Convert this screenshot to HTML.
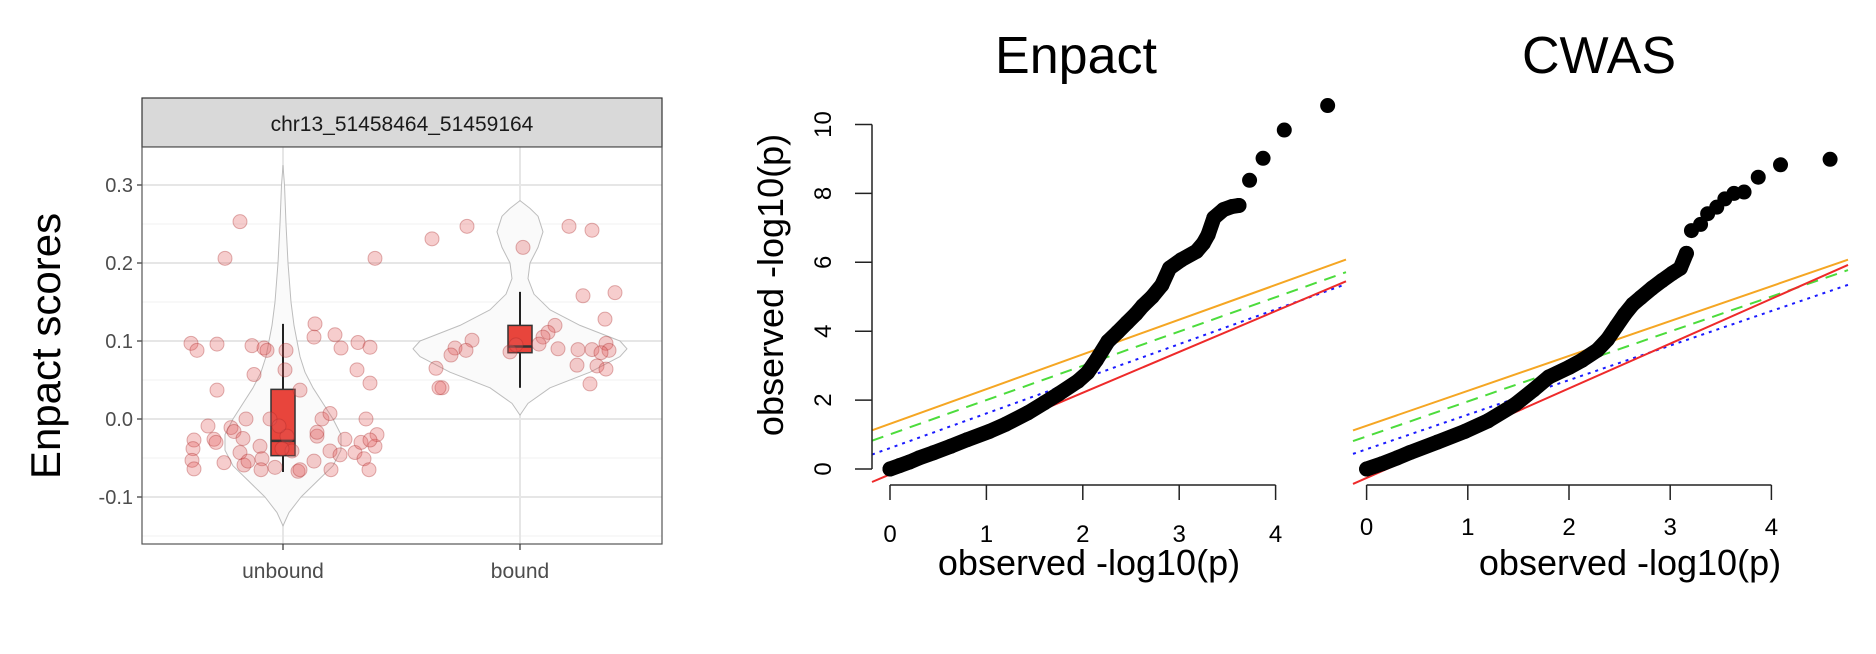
<!DOCTYPE html>
<html><head><meta charset="utf-8">
<style>
html,body{margin:0;padding:0;background:#fff;}
svg{display:block;font-family:"Liberation Sans",Arial,sans-serif;}
</style></head>
<body>
<svg id="chart" width="1876" height="654" viewBox="0 0 1876 654" xmlns="http://www.w3.org/2000/svg">
  <g id="violinPanel"></g>
  <g id="enpactPanel"></g>
  <g id="cwasPanel"></g>
</svg>
<script>
// ---------- Violin panel data ----------
const vCategories = ["unbound", "bound"];
const vYTicks = [-0.1, 0.0, 0.1, 0.2, 0.3];
const vYTickLabels = ["-0.1", "0.0", "0.1", "0.2", "0.3"];
const unboundJitter = [-43,-58,92,-92,-86,-66,-31,-19,-16,3,32,31,52,58,75,87,2,-29,74,87,-66,17,-37,-13,39,47,83,-75,-52,-49,-40,-69,-67,-89,-90,-91,-89,-59,-43,-39,-23,-21,-22,-8,4,9,15,17,31,34,34,48,47,57,62,72,78,81,86,92,94,-4,-1,-35,87];
const unboundValues = [0.253,0.206,0.206,0.097,0.088,0.096,0.094,0.091,0.088,0.088,0.122,0.105,0.108,0.091,0.098,0.092,0.063,0.057,0.063,0.046,0.037,0.037,0.0,0.0,0.0,0.007,0.0,-0.009,-0.011,-0.016,-0.025,-0.026,-0.03,-0.027,-0.038,-0.053,-0.064,-0.056,-0.043,-0.059,-0.035,-0.051,-0.065,-0.062,-0.022,-0.041,-0.067,-0.065,-0.054,-0.022,-0.017,-0.065,-0.041,-0.046,-0.026,-0.043,-0.03,-0.051,-0.065,-0.035,-0.02,-0.009,-0.038,-0.054,-0.027];
const boundJitter = [-88,-53,3,49,72,63,95,85,35,28,23,19,38,58,72,86,89,81,57,77,86,70,-48,-65,-54,-69,-10,-84,-78,-81,-4];
const boundValues = [0.231,0.247,0.22,0.247,0.242,0.158,0.162,0.128,0.12,0.111,0.105,0.096,0.09,0.089,0.089,0.097,0.088,0.085,0.069,0.068,0.064,0.045,0.101,0.091,0.088,0.082,0.086,0.065,0.04,0.04,0.095];
// box stats: [lowWhisker, q1, median, q3, highWhisker]
const unboundBox = [-0.068,-0.047,-0.028,0.038,0.122];
const boundBox = [0.04,0.085,0.093,0.12,0.163];
// violin outline: values and half-widths (density, px-scaled)
const unboundViolinY = [-0.137,-0.12,-0.1,-0.08,-0.06,-0.04,-0.02,0.0,0.02,0.04,0.06,0.08,0.1,0.12,0.15,0.2,0.25,0.3,0.325];
const unboundViolinW = [0,6,18,34,50,58,58,50,40,30,22,17,14,11,8,5,3,1.5,0];
const boundViolinY = [0.005,0.02,0.04,0.06,0.08,0.09,0.1,0.12,0.14,0.16,0.18,0.2,0.22,0.24,0.26,0.27,0.28];
const boundViolinW = [0,8,30,70,100,107,100,60,30,14,8,10,18,23,18,10,0];

const NS = "http://www.w3.org/2000/svg";
function mk(parent, tag, attrs, text){
  const e = document.createElementNS(NS, tag);
  for (const k in attrs) e.setAttribute(k, attrs[k]);
  if (text !== undefined) e.textContent = text;
  parent.appendChild(e);
  return e;
}

// ---------- Violin panel ----------
(function(){
  const g = document.getElementById('violinPanel');
  const L=142, R=662, T=147, B=544;
  const yS = v => 419 - v*780;
  const xS = i => [283,520][i];
  // strip
  const strip = mk(g,'rect',{x:L,y:98,width:R-L,height:49,fill:'#d9d9d9',stroke:'#333','stroke-width':1.2});
  
  
  const st = mk(g,'text',{x:(L+R)/2,y:131,'text-anchor':'middle','font-size':21,fill:'#1a1a1a'},'chr13_51458464_51459164');
  
  
  mk(g,'rect',{x:L,y:T,width:R-L,height:B-T,fill:'#fff'});
  // minor grid
  for (let v=-0.15; v<=0.351; v+=0.1){
    const y=yS(v); if (y<T||y>B) continue;
    const gl = mk(g,'line',{x1:L,x2:R,y1:y,y2:y,stroke:'#f0f0f0','stroke-width':1});
    
    
  }
  vYTicks.forEach((v,i)=>{
    const y=yS(v);
    const gl = mk(g,'line',{x1:L,x2:R,y1:y,y2:y,stroke:'#e6e6e6','stroke-width':2});
    
    
    const tk = mk(g,'line',{x1:L-5,x2:L,y1:y,y2:y,stroke:'#333','stroke-width':1.2});
    
    
    const t = mk(g,'text',{x:L-9,y:y+7,'text-anchor':'end','font-size':20,fill:'#4d4d4d'},vYTickLabels[i]);
    
    
  });
  vCategories.forEach((c,i)=>{
    const x=xS(i);
    const gl = mk(g,'line',{x1:x,x2:x,y1:T,y2:B,stroke:'#e6e6e6','stroke-width':2});
    
    
  });
  // violins
  function violin(i, ys, ws, name){
    let d='';
    ys.forEach((v,k)=>{ d += (k?'L':'M')+(xS(i)+ws[k])+','+yS(v)+' '; });
    for (let k=ys.length-1;k>=0;k--) d += 'L'+(xS(i)-ws[k])+','+yS(ys[k])+' ';
    const p = mk(g,'path',{d:d+'Z',fill:'#fafafa',stroke:'#bdbdbd','stroke-width':1,'stroke-linejoin':'round'});
    
    
  }
  violin(0, unboundViolinY, unboundViolinW, 'violin-unbound');
  violin(1, boundViolinY, boundViolinW, 'violin-bound');
  // boxes
  function box(i, s, name){
    const x=xS(i), w=24;
    const wl = mk(g,'line',{x1:x,x2:x,y1:yS(s[0]),y2:yS(s[4]),stroke:'#222','stroke-width':2});
    
    
    const r = mk(g,'rect',{x:x-w/2,y:yS(s[3]),width:w,height:yS(s[1])-yS(s[3]),fill:'#e8453c',stroke:'#333','stroke-width':1.5});
    
    
    const m = mk(g,'line',{x1:x-w/2,x2:x+w/2,y1:yS(s[2]),y2:yS(s[2]),stroke:'#333','stroke-width':2.5});
    
    
  }
  box(0, unboundBox, 'unbound');
  box(1, boundBox, 'bound');
  // points
  function pts(i, jit, vals, name){
    vals.forEach((v,k)=>{
      const c = mk(g,'circle',{cx:xS(i)+jit[k],cy:yS(v),r:7,fill:'rgba(226,90,90,0.3)',stroke:'rgba(170,40,40,0.35)','stroke-width':1});
      
      
    });
  }
  pts(0, unboundJitter, unboundValues, 'point-unbound');
  pts(1, boundJitter, boundValues, 'point-bound');
  const bd = mk(g,'rect',{x:L,y:T,width:R-L,height:B-T,fill:'none',stroke:'#555','stroke-width':1.2});
  
  
  vCategories.forEach((c,i)=>{
    const x=xS(i);
    const tk = mk(g,'line',{x1:x,x2:x,y1:B,y2:B+6,stroke:'#333','stroke-width':1.2});
    
    
    const t = mk(g,'text',{x:x,y:578,'text-anchor':'middle','font-size':21,fill:'#4d4d4d'},c);
    
    
  });
  const yt = mk(g,'text',{x:0,y:0,'text-anchor':'middle','font-size':42,fill:'#000',transform:'translate(60,346) rotate(-90)'},'Enpact scores');
  
  
})();

// ---------- QQ data ----------
const qqXTicks = [0,1,2,3,4];
const qqYTicks = [0,2,4,6,8,10];
const enpactX = [0,0.1,0.2,0.3,0.45,0.63,0.8,1.03,1.2,1.43,1.6,1.75,1.95,2.05,2.14,2.26,2.36,2.46,2.55,2.62,2.72,2.82,2.9,3.02,3.18,3.25,3.3,3.36,3.46,3.55,3.62];
const enpactY = [0,0.1,0.2,0.32,0.47,0.66,0.85,1.09,1.3,1.63,1.92,2.18,2.55,2.8,3.16,3.7,3.97,4.25,4.5,4.73,5.0,5.34,5.83,6.07,6.32,6.55,6.8,7.29,7.53,7.62,7.65];
const enpactTopX = [3.73,3.87,4.09,4.54];
const enpactTopY = [8.38,9.02,9.84,10.55];
const cwasX = [0,0.15,0.3,0.43,0.7,0.97,1.2,1.47,1.65,1.8,2.0,2.13,2.28,2.38,2.47,2.55,2.63,2.71,2.82,2.92,3.02,3.1,3.16];
const cwasY = [0,0.15,0.32,0.48,0.78,1.09,1.4,1.88,2.3,2.67,2.95,3.16,3.45,3.76,4.15,4.49,4.78,4.98,5.25,5.47,5.68,5.83,6.26];
const cwasTopX = [3.21,3.3,3.37,3.46,3.54,3.63,3.73,3.87,4.09,4.58];
const cwasTopY = [6.92,7.1,7.41,7.6,7.84,8.0,8.04,8.47,8.83,8.99];
// reference lines: [intercept, slope]
const enpactLines = {orange:[1.31,1.008], green:[1.006,0.995], blue:[0.607,1.006], red:[-0.156,1.185]};
const cwasLines = {orange:[1.256,1.013], green:[0.946,1.015], blue:[0.574,1.003], red:[-0.26,1.30]};

function qqPanel(gid, cfg){
  const g = document.getElementById(gid);
  const xS = v => cfg.x0 + v*cfg.xu;
  const yS = v => 469 - v*34.45;
  const xMin = (cfg.L-cfg.x0)/cfg.xu, xMax = (cfg.R-cfg.x0)/cfg.xu;
  const styles = {
    orange:{stroke:'#f5a623',dash:'none',name:'orange-line'},
    green:{stroke:'#4cdc3c',dash:'12,8',name:'green-dashed-line'},
    blue:{stroke:'#1a1aff',dash:'3,5',name:'blue-dotted-line'},
    red:{stroke:'#ee2a2a',dash:'none',name:'red-line'}
  };
  ['orange','green','blue','red'].forEach(k=>{
    const [a,b] = cfg.lines[k];
    const l = mk(g,'line',{x1:xS(xMin),y1:yS(a+b*xMin),x2:xS(xMax),y2:yS(a+b*xMax),stroke:styles[k].stroke,'stroke-width':2,'stroke-dasharray':styles[k].dash});
    
    
  });
  // dense band
  const pl = mk(g,'polyline',{points:cfg.xs.map((x,i)=>xS(x)+','+yS(cfg.ys[i])).join(' '),fill:'none',stroke:'#000','stroke-width':15,'stroke-linecap':'round','stroke-linejoin':'round'});
  
  
  cfg.xs.forEach((x,i)=>{
    const c = mk(g,'circle',{cx:xS(x),cy:yS(cfg.ys[i]),r:7.5,fill:'#000'});
    
    
  });
  cfg.tx.forEach((x,i)=>{
    const c = mk(g,'circle',{cx:xS(x),cy:yS(cfg.ty[i]),r:7.5,fill:'#000'});
    
    
  });
  // x axis
  const ax = mk(g,'line',{x1:xS(0),x2:xS(4),y1:485,y2:485,stroke:'#222','stroke-width':1.5});
  
  
  qqXTicks.forEach(v=>{
    const tk = mk(g,'line',{x1:xS(v),x2:xS(v),y1:485,y2:500,stroke:'#222','stroke-width':1.5});
    
    
    const t = mk(g,'text',{x:xS(v),y:cfg.xlabY,'text-anchor':'middle','font-size':24,fill:'#000'},String(v));
    
    
  });
  if (cfg.yaxis){
    const ay = mk(g,'line',{x1:872,x2:872,y1:yS(0),y2:yS(10),stroke:'#222','stroke-width':1.5});
    
    
    qqYTicks.forEach(v=>{
      const tk = mk(g,'line',{x1:855,x2:872,y1:yS(v),y2:yS(v),stroke:'#222','stroke-width':1.5});
      
      
      const t = mk(g,'text',{x:0,y:0,'text-anchor':'middle','font-size':24,fill:'#000',transform:'translate(831,'+yS(v)+') rotate(-90)'},String(v));
      
      
    });
    const yt = mk(g,'text',{x:0,y:0,'text-anchor':'middle','font-size':36,fill:'#000',transform:'translate(783,285) rotate(-90)'},'observed -log10(p)');
    
    
  }
  const xt = mk(g,'text',{x:cfg.xtX,y:575,'text-anchor':'middle','font-size':36,fill:'#000'},'observed -log10(p)');
  
  
  const tt = mk(g,'text',{x:cfg.titleX,y:73,'text-anchor':'middle','font-size':52,fill:'#000'},cfg.title);
  
  
}
qqPanel('enpactPanel',{x0:890,xu:96.4,L:872,R:1346,lines:enpactLines,xs:enpactX,ys:enpactY,tx:enpactTopX,ty:enpactTopY,yaxis:true,xlabY:542,xtX:1089,titleX:1076,title:'Enpact'});
qqPanel('cwasPanel',{x0:1366.6,xu:101.2,L:1353,R:1848,lines:cwasLines,xs:cwasX,ys:cwasY,tx:cwasTopX,ty:cwasTopY,yaxis:false,xlabY:535,xtX:1630,titleX:1599,title:'CWAS'});
</script>
</body></html>
